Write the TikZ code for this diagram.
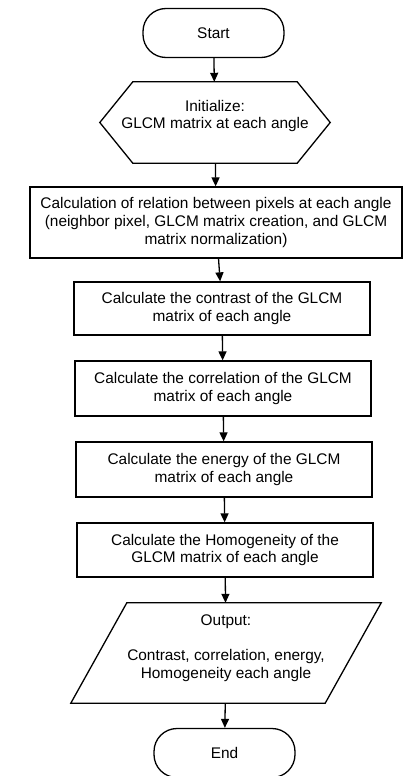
\documentclass[tikz,border=0pt]{standalone}
\usepackage{fontspec}
\setmainfont{Liberation Sans}
\usetikzlibrary{arrows.meta}

\begin{document}
\begin{tikzpicture}[x=1pt,y=1pt,
	every node/.style={font=\fontsize{15.4}{17.7}\selectfont, align=center},
	every label/.style={font=\fontsize{15.4}{17.7}\selectfont, align=center},
	term/.style={draw, line width=1.3pt, rounded corners=23pt, minimum width=141pt, minimum height=49pt},
	proc/.style={draw, line width=1.3pt, minimum width=296pt, minimum height=54pt},
	flow/.style={line width=1.3pt, -{Triangle[length=9pt,width=8pt]}}]
		\useasboundingbox (0,0) rectangle (417,-776);
		\node[term] (start) at (213.5,-33) {Start};
		\node[minimum width=230pt, minimum height=81pt,
			label={[yshift=6.5pt]center:Initialize:\\GLCM matrix at each angle}] (init) at (215,-122.5) {};
		\draw[line width=1.3pt] (init.west) -- ([xshift=33pt]init.north west) -- ([xshift=-33pt]init.north east)
			-- (init.east) -- ([xshift=-33pt]init.south east) -- ([xshift=33pt]init.south west) -- cycle;
		\node[proc, minimum width=372pt, minimum height=71pt] (rel) at (216,-222.5) {Calculation of relation between pixels at each angle\\(neighbor pixel, GLCM matrix creation, and GLCM\\matrix normalization)};
		\node[proc, minimum height=53pt] (contrast) at (222,-308.5) {Calculate the contrast of the GLCM\\matrix of each angle};
		\node[proc, minimum height=55pt] (corr) at (223,-388.5) {Calculate the correlation of the GLCM\\matrix of each angle};
		\node[proc, minimum height=55pt] (energy) at (224,-469.5) {Calculate the energy of the GLCM\\matrix of each angle};
		\node[proc] (homog) at (225,-550) {Calculate the Homogeneity of the\\GLCM matrix of each angle};
		\node[minimum width=254pt, minimum height=100pt,
			label={[yshift=5pt]center:Output:\\[17.7pt]Contrast, correlation, energy,\\Homogeneity each angle}] (output) at (226,-653) {};
		\draw[line width=1.3pt] ([xshift=28pt]output.north west) -- ([xshift=28pt]output.north east)
			-- ([xshift=-28pt]output.south east) -- ([xshift=-28pt]output.south west) -- cycle;
		\node[term] (end) at (224.5,-753) {End};
		% arrows
		\draw[flow] (start) -- (init);
		\draw[flow] (init) -- (rel);
		\draw[flow] (rel) -- (contrast);
		\draw[flow] (contrast) -- (corr);
		\draw[flow] (corr) -- (energy);
		\draw[flow] (energy) -- (homog);
		\draw[flow] (homog) -- (output);
		\draw[flow] (output) -- (end);
	\end{tikzpicture}
\end{document}
